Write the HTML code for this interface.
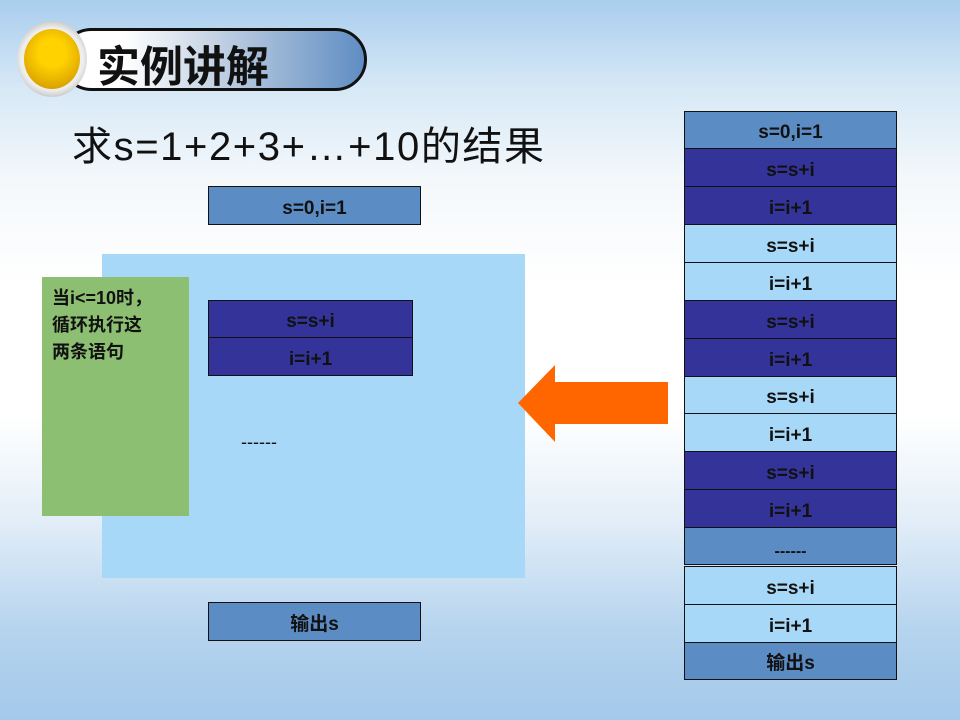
<html><head><style>
body{margin:0;width:960px;height:720px;overflow:hidden;position:relative;font-family:"Liberation Sans","Noto Sans CJK SC",sans-serif;
background:linear-gradient(180deg,#a9cdee 0%,#d6e8f6 12%,#f4f8fb 25%,#ffffff 40%,#ffffff 58%,#e3eef8 72%,#b4d3ee 88%,#a4c9ea 100%);}
.b{position:absolute;box-sizing:border-box;border:1px solid #111;text-align:center;font-weight:bold;font-size:19px;color:#111;padding-top:3px}
.m{background:#5b8cc4}.l{background:#a8d8f8}.d{background:#333399}
</style></head><body>
<div style="position:absolute;left:60px;top:28px;width:307px;height:63px;border:3px solid #111;border-radius:33px;box-sizing:border-box;background:linear-gradient(90deg,#fff 20%,#c5d3e4 50%,#5f8dc2 100%)"></div>
<div style="position:absolute;left:17px;top:21px;width:70px;height:76px;border-radius:50%;background:radial-gradient(circle,#eee 60%,#888 100%)"></div>
<div style="position:absolute;left:24px;top:29px;width:56px;height:60px;border-radius:50%;background:radial-gradient(circle at 50% 40%,#ffd200 30%,#d9a000 80%,#a77a00 100%)"></div>
<div style="position:absolute;left:97px;top:33px;font-size:43px;font-weight:bold;color:#111;">实例讲解</div>
<div style="position:absolute;left:72px;top:114px;font-size:40px;letter-spacing:1.6px;color:#111;">求s=1+2+3+…+10的结果</div>
<div class="b m" style="left:208px;top:186px;width:213px;height:39px;line-height:37px">s=0,i=1</div>
<div style="position:absolute;left:102px;top:254px;width:423px;height:324px;background:#a8d8f8"></div>
<div style="position:absolute;left:42px;top:277px;width:147px;height:239px;background:#8dbf72;font-size:18px;font-weight:bold;line-height:27px;padding:8px 0 0 10px;box-sizing:border-box;color:#111">当i&lt;=10时，<br>循环执行这<br>两条语句</div>
<div class="b d" style="left:208px;top:300px;width:205px;height:38px;line-height:36px">s=s+i</div>
<div class="b d" style="left:208px;top:337px;width:205px;height:39px;line-height:37px">i=i+1</div>
<div style="position:absolute;left:241px;top:432px;font-size:18px;color:#111">------</div>
<div class="b m" style="left:208px;top:602px;width:213px;height:39px;line-height:37px">输出s</div>
<svg style="position:absolute;left:0;top:0" width="960" height="720"><polygon points="518,403 555,365 555,382 668,382 668,424 555,424 555,442" fill="#ff6600"/></svg>
<div class="b m" style="left:684px;top:111px;width:213px;height:38px;line-height:36px">s=0,i=1</div>
<div class="b d" style="left:684px;top:148px;width:213px;height:39px;line-height:37px">s=s+i</div>
<div class="b d" style="left:684px;top:186px;width:213px;height:39px;line-height:37px">i=i+1</div>
<div class="b l" style="left:684px;top:224px;width:213px;height:39px;line-height:37px">s=s+i</div>
<div class="b l" style="left:684px;top:262px;width:213px;height:39px;line-height:37px">i=i+1</div>
<div class="b d" style="left:684px;top:300px;width:213px;height:39px;line-height:37px">s=s+i</div>
<div class="b d" style="left:684px;top:338px;width:213px;height:39px;line-height:37px">i=i+1</div>
<div class="b l" style="left:684px;top:376px;width:213px;height:38px;line-height:36px">s=s+i</div>
<div class="b l" style="left:684px;top:413px;width:213px;height:39px;line-height:37px">i=i+1</div>
<div class="b d" style="left:684px;top:451px;width:213px;height:39px;line-height:37px">s=s+i</div>
<div class="b d" style="left:684px;top:489px;width:213px;height:39px;line-height:37px">i=i+1</div>
<div class="b m" style="left:684px;top:527px;width:213px;height:38px;line-height:42px;font-size:16px">------</div>
<div class="b l" style="left:684px;top:566px;width:213px;height:39px;line-height:37px">s=s+i</div>
<div class="b l" style="left:684px;top:604px;width:213px;height:39px;line-height:37px">i=i+1</div>
<div class="b m" style="left:684px;top:642px;width:213px;height:38px;line-height:36px">输出s</div>
</body></html>
